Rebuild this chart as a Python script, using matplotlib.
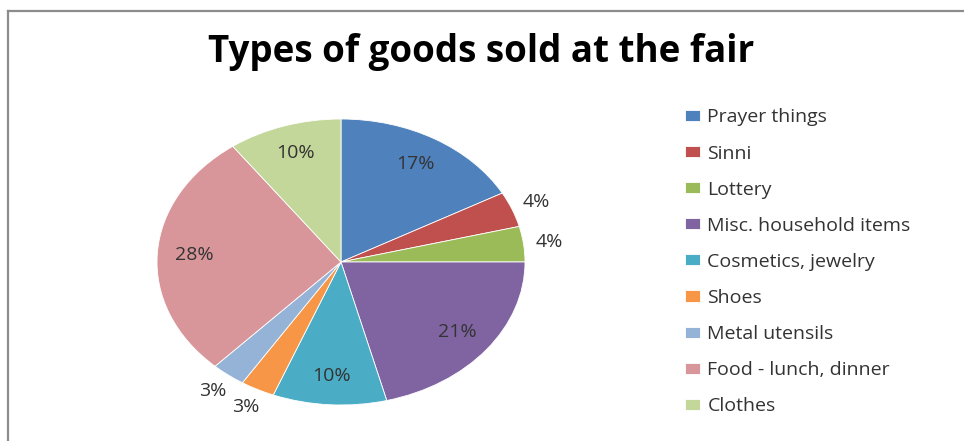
import numpy as np
import matplotlib
matplotlib.use('Agg')
import matplotlib.pyplot as plt
from matplotlib.lines import Line2D

# Data
categories = ['Prayer things', 'Sinni', 'Lottery', 'Misc. household items',
              'Cosmetics, jewelry', 'Shoes', 'Metal utensils',
              'Food - lunch, dinner', 'Clothes']
shares = [17, 4, 4, 21, 10, 3, 3, 28, 10]
colors = ['#4F81BD', '#C0504D', '#9BBB59', '#8064A2', '#4BACC6',
          '#F79646', '#95B3D7', '#D9969A', '#C4D79B']

plt.rcParams['font.family'] = ['Open Sans', 'DejaVu Sans']

fig = plt.figure(figsize=(9.64, 4.41), dpi=100)
W, H = 964, 441

# pie area in pixels (the original is stretched horizontally)
left, right, top, bottom = 157, 525, 119, 405
ax = fig.add_axes([left / W, 1 - bottom / H, (right - left) / W, (bottom - top) / H])

wedges, _ = ax.pie(shares, colors=colors, startangle=90, counterclock=False,
                   wedgeprops=dict(edgecolor='white', linewidth=0.6))
ax.set_aspect('auto')
ax.set_xlim(-1, 1)
ax.set_ylim(-1, 1)
ax.axis('off')

# percentage labels: inside for big slices, outside for small ones
for w, v in zip(wedges, shares):
    ang = np.deg2rad((w.theta1 + w.theta2) / 2)
    r = 0.8 if v >= 10 else 1.14
    ax.text(r * np.cos(ang), r * np.sin(ang), f'{v}%', ha='center', va='center',
            fontsize=14, color='#333333', clip_on=False)

fig.text(481 / W, 1 - 52 / H, 'Types of goods sold at the fair', ha='center', va='center',
         fontsize=26.5, fontweight='bold', color='black')

fig.legend(wedges, categories, loc='upper left', bbox_to_anchor=(667 / W, 1 - 91 / H),
           frameon=False, fontsize=14, handlelength=0.82, handleheight=0.5,
           handletextpad=0.36, labelspacing=0.93, labelcolor='#333333')

# chart border (runs off the right and bottom edges)
fig.add_artist(Line2D([7.5 / W, 1.01], [1 - 10.5 / H] * 2, color='#8c8c8c', lw=1.6))
fig.add_artist(Line2D([7.5 / W] * 2, [1 - 10.5 / H, -0.01], color='#8c8c8c', lw=1.6))

fig.savefig('out.png', dpi=100)
